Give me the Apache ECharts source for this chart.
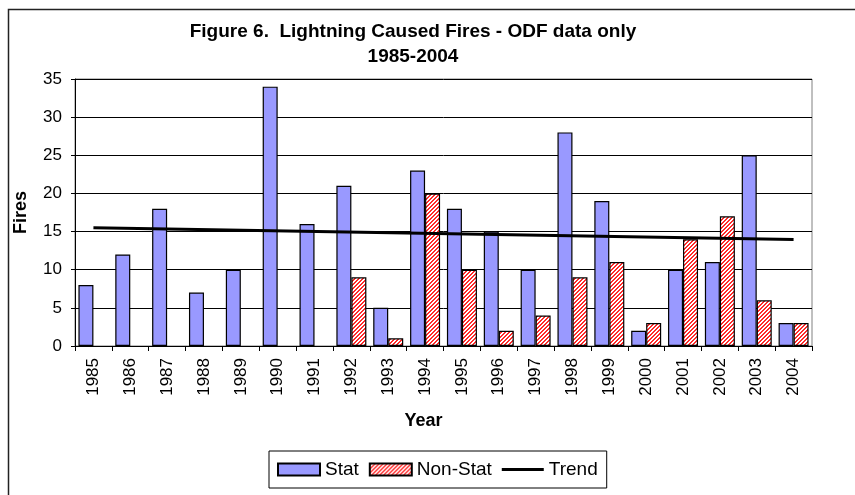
<!DOCTYPE html>
<html>
<head>
<meta charset="utf-8">
<script src="https://cdn.jsdelivr.net/npm/echarts@6/dist/echarts.min.js"></script>
<style>
html,body{margin:0;padding:0;background:#fff;}
#chart{width:855px;height:495px;}
</style>
</head>
<body>
<div id="chart"></div>
<script>
const years = ['1985','1986','1987','1988','1989','1990','1991','1992','1993','1994','1995','1996','1997','1998','1999','2000','2001','2002','2003','2004'];
const statValues = [8,12,18,7,10,34,16,21,5,23,18,15,10,28,19,2,10,11,25,3];
const nonStatValues = [null,null,null,null,null,null,null,9,1,20,10,2,4,9,11,3,14,17,6,3];
const trendStart = 15.5;
const trendEnd = 13.95;
const yTicks = [0,5,10,15,20,25,30,35];

function hatch() {
  const c = document.createElement('canvas');
  c.width = 4; c.height = 4;
  const ctx = c.getContext('2d');
  ctx.fillStyle = '#ffffff';
  ctx.fillRect(0,0,4,4);
  ctx.fillStyle = '#ff2a2a';
  for (let x = 0; x < 4; x++) {
    for (let y = 0; y < 4; y++) {
      if ((x + y) % 4 === 0 || (x + y) % 4 === 1) ctx.fillRect(x, y, 1, 1);
    }
  }
  return {image: c, repeat: 'repeat'};
}

const font = '"Liberation Sans", Arial, sans-serif';
const chart = echarts.init(document.getElementById('chart'), null, {renderer: 'canvas'});
chart.setOption({
  animation: false,
  backgroundColor: '#fff',
  textStyle: {fontFamily: font},
  title: {
    text: 'Figure 6.  Lightning Caused Fires - ODF data only\n1985-2004',
    left: 408,
    top: 14,
    textAlign: 'center',
    textStyle: {fontFamily: font, fontSize: 19, fontWeight: 'bold', color: '#000', lineHeight: 25}
  },
  graphic: [{
    type: 'rect', left: 6, top: 7, silent: true,
    shape: {width: 860, height: 500},
    style: {fill: 'none', stroke: '#222', lineWidth: 1.5}
  }],
  legend: {
    left: 269, top: 451,
    padding: [9, 9, 9, 8],
    borderColor: '#000', borderWidth: 1,
    itemWidth: 42, itemHeight: 12, itemGap: 10,
    textStyle: {fontFamily: font, fontSize: 19, color: '#000'},
    data: [{name: 'Stat', icon: 'rect'}, {name: 'Non-Stat', icon: 'rect'}, {name: 'Trend', icon: 'path://M0,0H42V3H0Z'}]
  },
  grid: {left: 75, right: 43, top: 79, bottom: 149, show: true, borderColor: '#808080', borderWidth: 1},
  xAxis: {
    type: 'category',
    data: years,
    name: 'Year',
    nameLocation: 'middle',
    nameGap: 66,
    nameTextStyle: {fontFamily: font, fontSize: 18, fontWeight: 'bold', color: '#000', padding: [0, 40, 0, 0], verticalAlign: 'top'},
    axisLine: {lineStyle: {color: '#000', width: 1}},
    axisTick: {show: true, length: 5, lineStyle: {color: '#000'}},
    axisLabel: {rotate: 90, margin: 12, fontSize: 17, color: '#000', fontFamily: font}
  },
  yAxis: {
    type: 'value',
    min: 0, max: 35, interval: 5,
    name: 'Fires',
    nameLocation: 'middle',
    nameGap: 45,
    nameRotate: 90,
    nameTextStyle: {fontFamily: font, fontSize: 18, fontWeight: 'bold', color: '#000'},
    axisLine: {show: true, lineStyle: {color: '#000', width: 1}},
    axisTick: {show: true, length: 4, lineStyle: {color: '#000'}},
    axisLabel: {margin: 13, fontSize: 17, color: '#000', fontFamily: font,
      formatter: function (v) { return yTicks.indexOf(v) >= 0 ? String(v) : ''; }},
    splitLine: {show: true, lineStyle: {color: '#000', width: 1}}
  },
  series: [
    {
      name: 'Stat', type: 'bar', data: statValues,
      barWidth: 15, barGap: '0%',
      itemStyle: {color: '#9999ff', borderColor: '#000', borderWidth: 1.2}
    },
    {
      name: 'Non-Stat', type: 'bar', data: nonStatValues,
      barWidth: 15, barGap: '0%',
      itemStyle: {color: hatch(), borderColor: '#000', borderWidth: 1.2}
    },
    {
      name: 'Trend', type: 'line',
      data: [[years[0], trendStart], [years[years.length - 1], trendEnd]],
      symbol: 'none', showSymbol: false,
      lineStyle: {color: '#000', width: 3},
      itemStyle: {color: '#000'},
      z: 5
    }
  ]
});
</script>
</body>
</html>
